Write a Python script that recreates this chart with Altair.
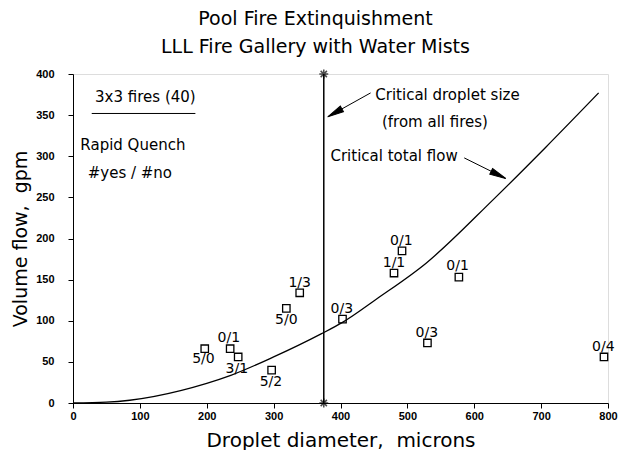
import altair as alt
import pandas as pd

# Data points (droplet diameter, volume flow) and their yes/no labels
pt_x = [197, 235, 247, 297, 319, 339, 403, 492, 480, 577, 530, 794]
pt_y = [66, 66, 56, 40, 115, 134, 102, 185, 158, 153, 73, 56]
pt_label = ["5/0", "0/1", "3/1", "5/2", "5/0", "1/3", "0/3", "0/1", "1/1", "0/1", "0/3", "0/4"]
lab_x = [195, 233, 245, 296, 319, 339, 402, 491, 480, 575, 529, 793]
lab_y = [53, 79, 41, 26, 101, 146, 114, 197, 170, 166, 85, 68]

# Critical total flow curve
curve_x = [0, 50, 200, 237, 300, 371, 403, 455, 528, 628, 707, 786]
curve_y = [0, 1, 24, 34, 56, 84, 98, 127, 170, 247, 311, 377]

# Critical droplet size
crit_d = 375

# Annotations
ann_text = ["3x3 fires (40)", "Rapid Quench", "#yes / #no",
            "Critical droplet size", "(from all fires)", "Critical total flow"]
ann_x = [33, 11, 22, 452, 462, 385]
ann_y = [372, 314, 280, 374, 342, 300]

arrow_x = [445, 585]
arrow_y = [377, 298]
arrow_x2 = [381, 647]
arrow_y2 = [348, 273]
arrow_angle = [241, 116]

FONT = "DejaVu Sans"
TICK_FONT = "Liberation Sans"

xs = alt.Scale(domain=[0, 800], nice=False)
ys = alt.Scale(domain=[0, 400], nice=False)

xax = alt.Axis(values=list(range(0, 801, 100)), title="Droplet diameter,\u00a0\u00a0microns",
               grid=False, tickSize=5, labelPadding=2, titlePadding=9,
               labelFont=TICK_FONT, labelFontSize=11, labelFontWeight="bold", labelColor="black",
               titleFont=FONT, titleFontSize=20, titleFontWeight="normal", titleColor="black",
               domainColor="black", tickColor="black", labelFlush=False)
yax = alt.Axis(values=list(range(0, 401, 50)), title="Volume flow,\u00a0\u00a0gpm",
               grid=False, tickSize=5, labelPadding=14, titlePadding=5,
               labelFont=TICK_FONT, labelFontSize=11, labelFontWeight="bold", labelColor="black",
               titleFont=FONT, titleFontSize=19, titleFontWeight="normal", titleColor="black",
               domainColor="black", tickColor="black", labelFlush=False)

curve_df = pd.DataFrame({"x": curve_x, "y": curve_y})
pts_df = pd.DataFrame({"x": pt_x, "y": pt_y})
lab_df = pd.DataFrame({"x": lab_x, "y": lab_y, "t": pt_label})
ann_df = pd.DataFrame({"x": ann_x, "y": ann_y, "t": ann_text})
vline_df = pd.DataFrame({"x": [crit_d], "y": [0], "y2": [400]})
star_df = pd.DataFrame({"x": [crit_d, crit_d], "y": [0, 400]})
arr_df = pd.DataFrame({"x": arrow_x, "y": arrow_y, "x2": arrow_x2, "y2": arrow_y2, "a": arrow_angle})
ul_df = pd.DataFrame({"x": [28], "x2": [183], "y": [352]})

curve = alt.Chart(curve_df).mark_line(color="black", strokeWidth=1.3, interpolate="monotone").encode(
    x=alt.X("x:Q", scale=xs, axis=xax), y=alt.Y("y:Q", scale=ys, axis=yax))

vline = alt.Chart(vline_df).mark_rule(color="black", strokeWidth=1.5).encode(
    x=alt.X("x:Q", scale=xs), y=alt.Y("y:Q", scale=ys), y2="y2:Q")

star_path = "M-1,0L1,0M0,-1L0,1M-0.7,-0.7L0.7,0.7M-0.7,0.7L0.7,-0.7"
stars = alt.Chart(star_df).mark_point(shape=star_path, size=80, color="black",
                                       strokeWidth=1.5, filled=False).encode(
    x=alt.X("x:Q", scale=xs), y=alt.Y("y:Q", scale=ys))

squares = alt.Chart(pts_df).mark_point(shape="square", size=55, filled=False,
                                        color="black", strokeWidth=1.3, opacity=1).encode(
    x=alt.X("x:Q", scale=xs), y=alt.Y("y:Q", scale=ys))

labels = alt.Chart(lab_df).mark_text(font=FONT, fontSize=14, color="black",
                                      align="center", baseline="middle").encode(
    x=alt.X("x:Q", scale=xs), y=alt.Y("y:Q", scale=ys), text="t:N")

ann = alt.Chart(ann_df).mark_text(font=FONT, fontSize=15, color="black",
                                   align="left", baseline="middle").encode(
    x=alt.X("x:Q", scale=xs), y=alt.Y("y:Q", scale=ys), text="t:N")

underline = alt.Chart(ul_df).mark_rule(color="black", strokeWidth=1).encode(
    x=alt.X("x:Q", scale=xs), x2="x2:Q", y=alt.Y("y:Q", scale=ys))

arr_lines = alt.Chart(arr_df).mark_rule(color="black", strokeWidth=1).encode(
    x=alt.X("x:Q", scale=xs), y=alt.Y("y:Q", scale=ys), x2="x2:Q", y2="y2:Q")

head_path = "M0,0L0.4,2L-0.4,2Z"
arr_heads = alt.Chart(arr_df).mark_point(shape=head_path, size=260, filled=True,
                                          fill="black", stroke="black", strokeWidth=1,
                                          opacity=1).encode(
    x=alt.X("x2:Q", scale=xs), y=alt.Y("y2:Q", scale=ys),
    angle=alt.Angle("a:Q", scale=None))

chart = alt.layer(curve, vline, stars, squares, labels, ann, underline, arr_lines, arr_heads).properties(
    width=535, height=329,
    title=alt.TitleParams(text=["Pool Fire Extinquishment", "LLL Fire Gallery with Water Mists"],
                          font=FONT, fontSize=19, fontWeight="normal", color="black",
                          lineHeight=28, anchor="middle", dx=-25, offset=10),
    autosize=alt.AutoSizeParams(type="none"),
    padding={"left": 65, "top": 66, "right": 10, "bottom": 47},
).configure_view(stroke="black", strokeWidth=1.5).configure(background="white")

chart.save("out.html", embed_options={"renderer": "svg", "actions": False})
